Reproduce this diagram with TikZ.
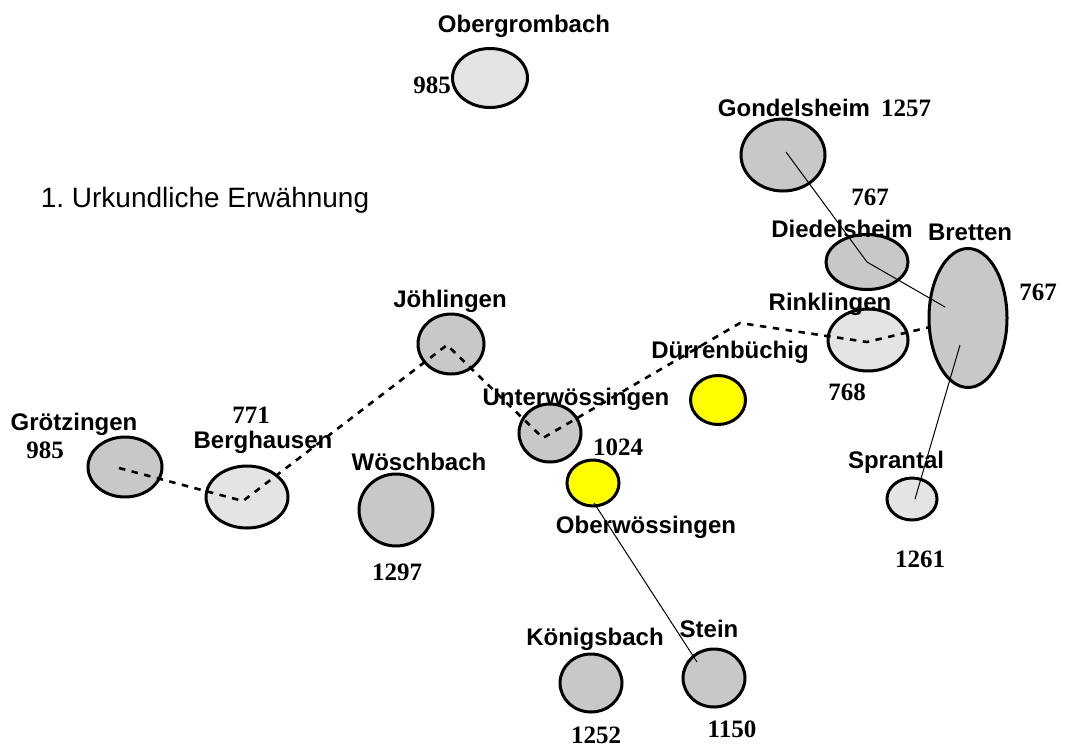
\documentclass[tikz,border=0pt]{standalone}
\usepackage{fontspec}
\setmainfont{Liberation Serif}
\setsansfont{Liberation Sans}
\usetikzlibrary{shapes.geometric}
\definecolor{lightg}{RGB}{228,228,228}
\definecolor{darkg}{RGB}{200,200,200}
\definecolor{yel}{RGB}{255,255,0}
\tikzset{
  townshape/.style={ellipse, draw=black, line width=3pt, inner sep=0pt},
  townlight/.style={townshape, fill=lightg},
  towndark/.style={townshape, fill=darkg},
  townyellow/.style={townshape, fill=yel},
  townlabel/.style={anchor=base, inner sep=0pt, font=\sffamily\bfseries\fontsize{24}{28}\selectfont},
  yearlabel/.style={anchor=base, inner sep=0pt, font=\rmfamily\bfseries\fontsize{25}{29}\selectfont},
  titlelabel/.style={anchor=base, inner sep=0pt, font=\sffamily\fontsize{28}{33}\selectfont},
  thinlink/.style={draw=black, line width=1pt},
  dashroute/.style={draw=black, line width=2.6pt, dash pattern=on 6.5pt off 6.5pt}
}
\begin{document}
\frenchspacing
\begin{tikzpicture}[x=1pt,y=-1pt]
\useasboundingbox (0,0) rectangle (1070,747);
% towns
\node[townlight, minimum width=75pt, minimum height=59pt] (ober) at (490,78) {};
\node[towndark, minimum width=84pt, minimum height=72pt] (gond) at (783,155) {};
\node[towndark, minimum width=82pt, minimum height=55pt] (died) at (867,262) {};
\node[towndark, minimum width=78pt, minimum height=139pt] (bret) at (968,318) {};
\node[townlight, minimum width=80pt, minimum height=62pt] (rink) at (868,340) {};
\node[townlight, minimum width=50pt, minimum height=42pt] (spra) at (912,499) {};
\node[towndark, minimum width=66pt, minimum height=60pt] (joeh) at (451,344) {};
\node[towndark, minimum width=62pt, minimum height=58pt] (unte) at (550,433) {};
\node[townyellow, minimum width=52pt, minimum height=46pt] (oberw) at (593,483) {};
\node[townyellow, minimum width=55pt, minimum height=49pt] (duer) at (718,400) {};
\node[towndark, minimum width=62pt, minimum height=58pt] (stein) at (714,678) {};
\node[towndark, minimum width=62pt, minimum height=58pt] (koen) at (591,683) {};
\node[towndark, minimum width=74pt, minimum height=60pt] (groe) at (125,467) {};
\node[townlight, minimum width=82pt, minimum height=62pt] (berg) at (247,497) {};
\node[towndark, minimum width=74pt, minimum height=72pt] (woes) at (396,510) {};
% helper coordinates
\coordinate (d0) at (119,468);
\coordinate (d1) at (243,501);
\coordinate (d2) at (447,345);
\coordinate (d3) at (543,438);
\coordinate (d4) at (740,323);
\coordinate (d5) at (867,342);
\coordinate (d6) at (930,327);
\coordinate (g1) at (786,152);
\coordinate (b1) at (945,307);
\coordinate (b2) at (960,345);
\coordinate (s1) at (915,499);
\coordinate (o1) at (594,503);
\coordinate (st1) at (697,662);
% connectors
\draw[dashroute] (d0) -- (d1) -- (d2) -- (d3) -- (d4) -- (d5) -- (d6);
\draw[thinlink] (g1) -- (died.center) -- (b1);
\draw[thinlink] (b2) -- (s1);
\draw[thinlink] (o1) -- (st1);
% labels
\node[titlelabel] (t) at (205,207) {1. Urkundliche Erwähnung};
\node[townlabel] (lober) at (524,32) {Obergrombach};
\node[yearlabel] (nober) at (432,93) {985};
\node[townlabel] (lgond) at (794,116) {Gondelsheim};
\node[yearlabel] (ngond) at (906,116) {1257};
\node[yearlabel] (ndied) at (870,205) {767};
\node[townlabel] (ldied) at (842,237) {Diedelsheim};
\node[townlabel] (lbret) at (970,240) {Bretten};
\node[yearlabel] (nbret) at (1038,300) {767};
\node[townlabel] (lrink) at (830,310) {Rinklingen};
\node[yearlabel] (nrink) at (847,400) {768};
\node[townlabel] (ljoeh) at (450,307) {Jöhlingen};
\node[townlabel] (lduer) at (730,358) {Dürrenbüchig};
\node[townlabel] (lunte) at (576,405) {Unterwössingen};
\node[yearlabel] (nunte) at (618,455) {1024};
\node[townlabel] (loberw) at (646,533) {Oberwössingen};
\node[townlabel] (lstein) at (709,637) {Stein};
\node[townlabel] (lkoen) at (595,645) {Königsbach};
\node[yearlabel] (nkoen) at (596,743) {1252};
\node[yearlabel] (nstein) at (732,737) {1150};
\node[townlabel] (lspra) at (896,468) {Sprantal};
\node[yearlabel] (nspra) at (920,567) {1261};
\node[townlabel] (lgroe) at (74,430) {Grötzingen};
\node[yearlabel] (ngroe) at (45,458) {985};
\node[yearlabel] (nberg) at (251,423) {771};
\node[townlabel] (lberg) at (263,448) {Berghausen};
\node[townlabel] (lwoes) at (419,470) {Wöschbach};
\node[yearlabel] (nwoes) at (397,580) {1297};
\end{tikzpicture}
\end{document}
